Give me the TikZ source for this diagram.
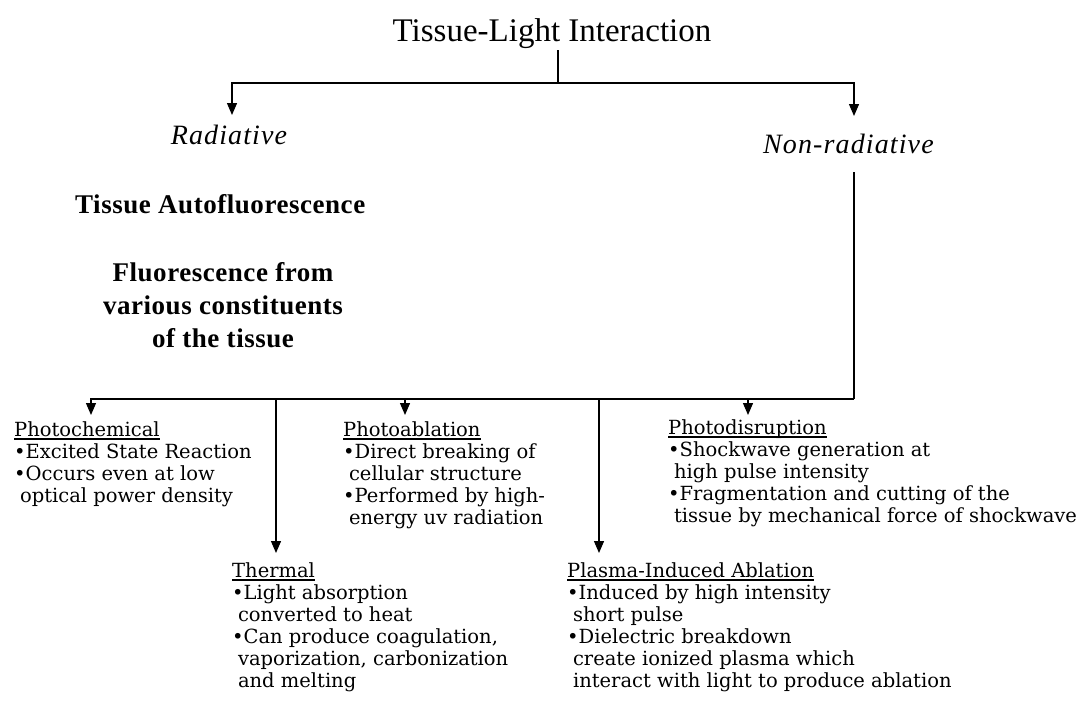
\documentclass[tikz,border=0pt]{standalone}
\usepackage{fontspec}
\setmainfont{Liberation Serif}
\newfontfamily\bodyf{DejaVu Serif}
\newfontfamily\boldf[LetterSpace=2]{Liberation Serif}
\newfontfamily\itf[LetterSpace=4]{Liberation Serif}
\usetikzlibrary{arrows.meta}
\tikzset{
  ln/.style={line width=1.3pt},
  arr/.style={ln, -{Triangle[width=10pt,length=12pt]}},
  blk/.style={anchor=base west, inner sep=0pt, align=left,
    font=\bodyf\fontsize{19.5pt}{22pt}\selectfont},
  titlestyle/.style={anchor=base, inner sep=0pt,
    font=\fontsize{33pt}{33pt}\selectfont},
  kind/.style={inner sep=0pt, font=\itf\itshape\fontsize{28pt}{28pt}\selectfont},
  boldtxt/.style={inner sep=0pt, font=\boldf\bfseries\fontsize{27pt}{33pt}\selectfont}
}
\newcommand{\ind}{\hspace*{0.3em}}
\newcommand{\hdul}[1]{\setbox0\hbox{#1}\rlap{\rule[-3.5pt]{\wd0}{1.2pt}}\box0}
\begin{document}
\begin{tikzpicture}[x=1pt,y=-1pt]
\useasboundingbox (0,0) rectangle (1088,716);
\fill[white] (0,0) rectangle (1088,716);

% texts (multi-line nodes: base anchor = last line's baseline)
\node[titlestyle] (title) at (552,41) {Tissue-Light Interaction};
\node[kind, anchor=base] (rad) at (229,144) {Radiative};
\node[kind, anchor=base west] (nonrad) at (763,153) {Non-radiative};
\node[boldtxt, anchor=base west] (taf) at (75,213) {Tissue Autofluorescence};
\node[boldtxt, anchor=base, align=center] (fl) at (223,347)
  {Fluorescence from\\various constituents\\of the tissue};

\node[blk] (pc) at (14,502) {\hdul{Photochemical}\\
  •Excited State Reaction\\
  •Occurs even at low\\
  \ind optical power density};
\node[blk] (pa) at (343,524) {\hdul{Photoablation}\\
  •Direct breaking of\\
  \ind cellular structure\\
  •Performed by high-\\
  \ind energy uv radiation};
\node[blk] (pd) at (668,522) {\hdul{Photodisruption}\\
  •Shockwave generation at\\
  \ind high pulse intensity\\
  •Fragmentation and cutting of the\\
  \ind tissue by mechanical force of shockwave};
\node[blk] (th) at (232,687) {\hdul{Thermal}\\
  •Light absorption\\
  \ind converted to heat\\
  •Can produce coagulation,\\
  \ind vaporization, carbonization\\
  \ind and melting};
\node[blk] (pl) at (567,687) {\hdul{Plasma-Induced Ablation}\\
  •Induced by high intensity\\
  \ind short pulse\\
  •Dielectric breakdown\\
  \ind create ionized plasma which\\
  \ind interact with light to produce ablation};

% connector points
\coordinate (tTop) at (558,50);
\coordinate (tJ) at (558,83);
\coordinate (rTip) at (232,115);
\coordinate (nTip) at (854,116);
\coordinate (nFrom) at (854,172);
\coordinate (bJ) at (854,399);
\coordinate (pcTip) at (91,415);
\coordinate (thJ) at (276,399);
\coordinate (thTip) at (276,553);
\coordinate (paJ) at (405,399);
\coordinate (paTip) at (405,415);
\coordinate (plJ) at (599,399);
\coordinate (plTip) at (599,553);
\coordinate (pdJ) at (748,399);
\coordinate (pdTip) at (748,415);

% connectors
\draw[ln] (tTop) -- (tJ);
\draw[arr] (tJ) -| (rTip);
\draw[arr] (tJ) -| (nTip);
\draw[ln] (nFrom) -- (bJ);
\draw[arr] (bJ) -| (pcTip);
\draw[arr] (thJ) -- (thTip);
\draw[arr] (paJ) -- (paTip);
\draw[arr] (plJ) -- (plTip);
\draw[arr] (pdJ) -- (pdTip);
\end{tikzpicture}
\end{document}
